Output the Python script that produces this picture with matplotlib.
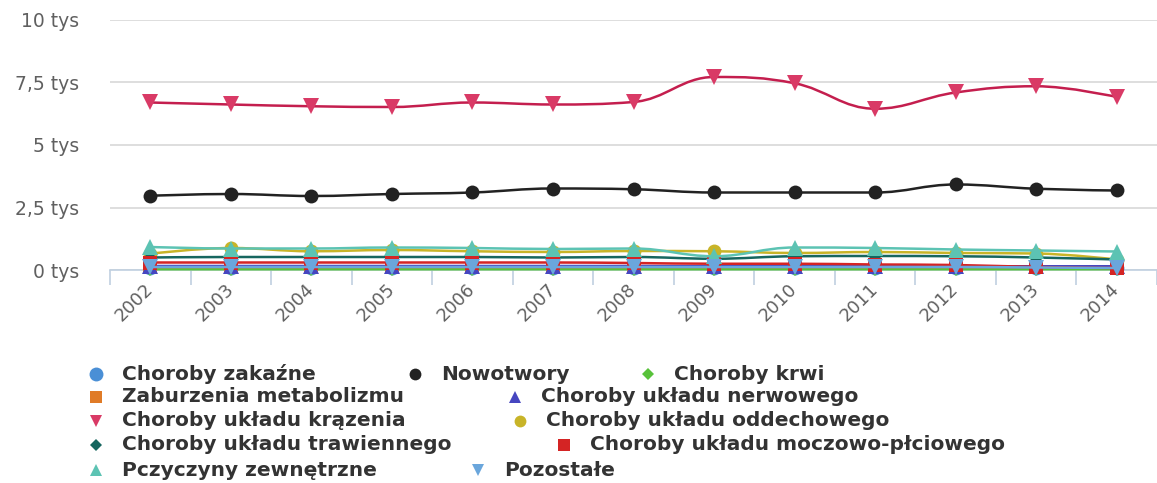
import numpy as np
import matplotlib
matplotlib.use('Agg')
import matplotlib.pyplot as plt
from matplotlib.path import Path
from matplotlib.patches import PathPatch
from matplotlib.lines import Line2D

# dane (tys.)
lata = ['2002', '2003', '2004', '2005', '2006', '2007', '2008',
        '2009', '2010', '2011', '2012', '2013', '2014']

zakazne = [0.10, 0.10, 0.10, 0.10, 0.10, 0.10, 0.10, 0.10, 0.10, 0.10, 0.10, 0.10, 0.10]
nowotwory = [2.97, 3.04, 2.96, 3.04, 3.10, 3.26, 3.23, 3.10, 3.10, 3.10, 3.42, 3.25, 3.18]
krwi = [0.03, 0.03, 0.03, 0.03, 0.03, 0.03, 0.03, 0.03, 0.03, 0.03, 0.03, 0.03, 0.03]
metabolizm = [0.12, 0.12, 0.12, 0.12, 0.12, 0.12, 0.12, 0.12, 0.12, 0.12, 0.12, 0.12, 0.12]
nerwowy = [0.16, 0.16, 0.16, 0.16, 0.16, 0.16, 0.16, 0.15, 0.15, 0.15, 0.15, 0.15, 0.15]
krazenia = [6.70, 6.62, 6.55, 6.52, 6.70, 6.62, 6.72, 7.72, 7.47, 6.45, 7.10, 7.35, 6.92]
oddechowy = [0.65, 0.88, 0.75, 0.80, 0.75, 0.72, 0.76, 0.75, 0.68, 0.72, 0.68, 0.66, 0.42]
trawienny = [0.50, 0.52, 0.52, 0.52, 0.52, 0.50, 0.52, 0.45, 0.55, 0.56, 0.55, 0.50, 0.42]
moczowy = [0.30, 0.30, 0.30, 0.30, 0.30, 0.30, 0.28, 0.25, 0.25, 0.22, 0.20, 0.12, 0.08]
zewnetrzne = [0.92, 0.86, 0.86, 0.90, 0.88, 0.84, 0.86, 0.55, 0.90, 0.88, 0.82, 0.78, 0.74]
pozostale = [0.12, 0.12, 0.12, 0.12, 0.12, 0.12, 0.12, 0.12, 0.12, 0.12, 0.12, 0.10, 0.08]

# nazwa, dane, kolor linii, kolor znacznika, znacznik
serie = [
    ('Choroby zakaźne', zakazne, '#4a8fd6', '#4a8fd6', 'o'),
    ('Nowotwory', nowotwory, '#222222', '#222222', 'o'),
    ('Choroby krwi', krwi, '#58c23a', '#58c23a', 'D'),
    ('Zaburzenia metabolizmu', metabolizm, '#e07b27', '#e07b27', 's'),
    ('Choroby układu nerwowego', nerwowy, '#4646c0', '#4646c0', '^'),
    ('Choroby układu krązenia', krazenia, '#c41e4e', '#d93a66', 'v'),
    ('Choroby układu oddechowego', oddechowy, '#c8b428', '#c8b428', 'o'),
    ('Choroby układu trawiennego', trawienny, '#16665f', '#16665f', 'D'),
    ('Choroby układu moczowo-płciowego', moczowy, '#d42424', '#d42424', 's'),
    ('Pczyczyny zewnętrzne', zewnetrzne, '#5cc3b3', '#5cc3b3', '^'),
    ('Pozostałe', pozostale, '#6aa6dc', '#6aa6dc', 'v'),
]


def spline(xs, ys, sm=1.5):
    # krzywa jak w highcharts (bezier)
    n = len(xs)
    lc = [(xs[i], ys[i]) for i in range(n)]
    rc = [(xs[i], ys[i]) for i in range(n)]
    d = sm + 1
    for i in range(1, n - 1):
        x, y = xs[i], ys[i]
        lx_, ly_ = xs[i - 1], ys[i - 1]
        nx_, ny_ = xs[i + 1], ys[i + 1]
        lcx = (sm * x + lx_) / d
        lcy = (sm * y + ly_) / d
        rcx = (sm * x + nx_) / d
        rcy = (sm * y + ny_) / d
        corr = ((rcy - lcy) * (rcx - x)) / (rcx - lcx) + y - rcy
        lcy += corr
        rcy += corr
        if lcy > ly_ and lcy > y:
            lcy = max(ly_, y)
            rcy = 2 * y - lcy
        elif lcy < ly_ and lcy < y:
            lcy = min(ly_, y)
            rcy = 2 * y - lcy
        if rcy > ny_ and rcy > y:
            rcy = max(ny_, y)
            lcy = 2 * y - rcy
        elif rcy < ny_ and rcy < y:
            rcy = min(ny_, y)
            lcy = 2 * y - rcy
        lc[i] = (lcx, lcy)
        rc[i] = (rcx, rcy)
    verts = [(xs[0], ys[0])]
    codes = [Path.MOVETO]
    for i in range(1, n):
        verts += [rc[i - 1], lc[i], (xs[i], ys[i])]
        codes += [Path.CURVE4] * 3
    return Path(verts, codes)


fig = plt.figure(figsize=(11.57, 4.83), dpi=100)
ax = fig.add_axes([110 / 1157, 213 / 483, 1047 / 1157, 250 / 483])

x = np.arange(len(lata))
for k, (nazwa, dane, kolor, kolor_m, mk) in enumerate(serie):
    ax.add_patch(PathPatch(spline(x, dane), facecolor='none', edgecolor=kolor,
                           lw=1.8, zorder=3 + k * 0.1, clip_on=False))
    ms = {'o': 10, 's': 9.5, 'D': 7.5, '^': 11, 'v': 11}[mk]
    ax.plot(x, dane, ls='none', marker=mk, color=kolor_m, ms=ms, mew=0,
            zorder=3.05 + k * 0.1, clip_on=False)

ax.set_xlim(-0.5, 12.5)
ax.set_ylim(0, 10)
ax.set_yticks([0, 2.5, 5, 7.5, 10])
ax.set_yticklabels(['0 tys', '2,5 tys', '5 tys', '7,5 tys', '10 tys'])
ax.yaxis.grid(True, color='#d8d8d8', lw=1.2)
ax.set_axisbelow(True)
for s in ['left', 'right', 'top']:
    ax.spines[s].set_visible(False)
ax.spines['bottom'].set_color('#c0d0e0')
ax.spines['bottom'].set_linewidth(1.2)
ax.tick_params(axis='y', length=0, pad=22, labelsize=13.5, labelcolor='#606060')

ax.set_xticks(x)
ax.set_xticklabels(lata, rotation=45, ha='right', va='center', rotation_mode='anchor')
ax.set_xticks(np.arange(-0.5, 13, 1), minor=True)
ax.tick_params(axis='x', which='major', length=0, pad=12, labelsize=13, labelcolor='#606060')
ax.tick_params(axis='x', which='minor', length=11, color='#c0d0e0', width=1.2)

# legenda
rzedy_y = [374, 397, 421, 445, 470]
pozycje = [
    (0, 96), (0, 415), (0, 648),
    (1, 96), (1, 515),
    (2, 96), (2, 520),
    (3, 96), (3, 564),
    (4, 96), (4, 478),
]
for (r, px), (nazwa, dane, kolor, kolor_m, mk) in zip(pozycje, serie):
    fy = 1 - rzedy_y[r] / 483
    ms = 10 if nazwa == 'Choroby zakaźne' else 8.5
    if mk == 'D':
        ms = 6.5
    fig.add_artist(Line2D([px / 1157], [fy], marker=mk, color=kolor_m, ms=ms, mew=0,
                          transform=fig.transFigure))
    fig.text((px + 26) / 1157, fy, nazwa, ha='left', va='center', fontsize=14.5,
             fontweight='bold', color='#333333')

fig.savefig('out.png', dpi=100)
